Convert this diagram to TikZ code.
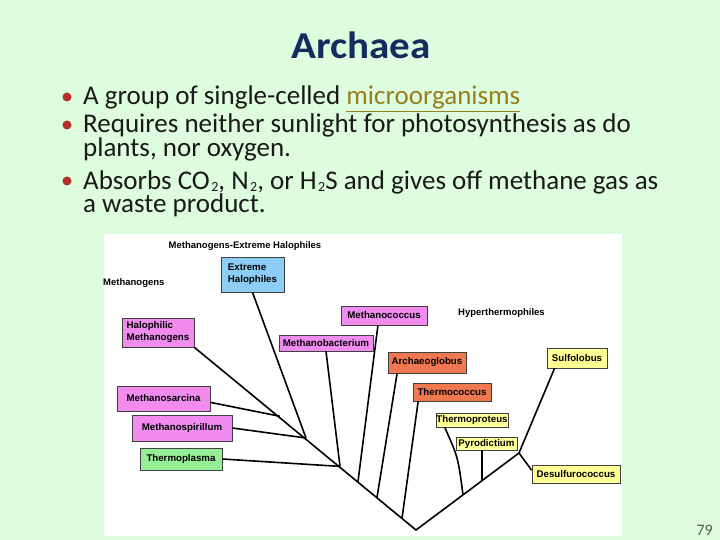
\documentclass[tikz,border=0pt]{standalone}
\usepackage{fontspec}
\setmainfont{Carlito}
\newfontfamily\titlefont[FakeStretch=1.08]{Carlito}
\newfontfamily\treefont{Liberation Sans}
\usetikzlibrary{calc}
\definecolor{bgc}{RGB}{222,253,222}
\definecolor{titlec}{RGB}{20,45,95}
\definecolor{txtc}{RGB}{25,25,25}
\definecolor{linkc}{RGB}{150,128,30}
\definecolor{bulc}{RGB}{185,45,40}
\definecolor{pinkc}{RGB}{240,140,240}
\definecolor{bluec}{RGB}{140,205,245}
\definecolor{orangec}{RGB}{240,120,80}
\definecolor{yellowc}{RGB}{255,255,150}
\definecolor{greenc}{RGB}{150,238,150}
\definecolor{numc}{RGB}{85,95,65}
\newcommand{\sbt}[1]{\kern1.5pt\raisebox{-2.5pt}{\fontsize{14}{14}\selectfont #1}}
\newcommand{\bodyfontsel}{\fontsize{27}{24}\selectfont\lineskiplimit -20pt\relax\lineskip 0pt\relax}
\begin{document}
\begin{tikzpicture}[x=1pt,y=-1pt,
  tbox/.style={draw=black!75, line width=0.7pt, inner sep=0pt, text=black, align=left,
    font=\treefont\bfseries\fontsize{9.7}{12}\selectfont},
  pinkbox/.style={tbox, fill=pinkc},
  bluebox/.style={tbox, fill=bluec},
  orangebox/.style={tbox, fill=orangec},
  yellowbox/.style={tbox, fill=yellowc},
  greenbox/.style={tbox, fill=greenc},
  plainlbl/.style={inner sep=0pt, text=black, font=\treefont\bfseries\fontsize{9.5}{12}\selectfont},
  branch/.style={line width=1.6pt, black},
  bul/.style={circle, fill=bulc, inner sep=0pt, minimum size=9pt},
  bodytext/.style={anchor=base west, inner sep=0pt, text=txtc, align=left, font=\bodyfontsel}]
\useasboundingbox (0,0) rectangle (720,540);
\fill[bgc] (0,0) rectangle (720,540);
% title
\node[anchor=base, inner sep=0pt, text=titlec, font=\titlefont\bfseries\fontsize{38}{40}\selectfont] (title) at (361,59) {Archaea};
% bullets
\node[bul] (b1) at (67,97) {};
\node[bul] (b2) at (67,125) {};
\node[bul] (b3) at (67,181) {};
\node[bodytext] (l1) at (83,105) {A group of single-celled \textcolor{linkc}{\underline{microorganisms}}};
\node[bodytext] (l2) at (83,157) {Requires neither sunlight for photosynthesis as do\\plants, nor oxygen.};
\node[bodytext] (l4) at (83,213) {Absorbs CO\sbt{2}, N\sbt{2}, or H\sbt{2}S and gives off methane gas as\\a waste product.};
% image area
\fill[white] (104,234) rectangle (622,536);
% plain labels
\node[plainlbl] (mgeh) at (245,246) {Methanogens-Extreme Halophiles};
\node[plainlbl, anchor=west] (mgl) at (103,283) {Methanogens};
\node[plainlbl, anchor=west] (hyp) at (458,313) {Hyperthermophiles};
% boxes
\node[bluebox, minimum width=63, minimum height=35] (exh) at (252.5,274.5) {Extreme\\Halophiles};
\node[pinkbox, minimum width=72, minimum height=29] (hme) at (158,332.5) {Halophilic\\Methanogens};
\node[pinkbox, minimum width=94, minimum height=16] (mba) at (326,343) {Methanobacterium};
\node[pinkbox, minimum width=86, minimum height=19] (mco) at (384,315.5) {Methanococcus};
\node[orangebox, minimum width=78, minimum height=21] (arc) at (427,362.5) {Archaeoglobus};
\node[yellowbox, minimum width=60, minimum height=20] (sul) at (577,358) {Sulfolobus};
\node[orangebox, minimum width=78, minimum height=18] (thc) at (452,392) {Thermococcus};
\node[yellowbox, minimum width=72, minimum height=14] (thp) at (472,420) {Thermoproteus};
\node[yellowbox, minimum width=61, minimum height=13] (pyr) at (486.5,443.5) {Pyrodictium};
\node[yellowbox, minimum width=88, minimum height=18] (des) at (576,474) {Desulfurococcus};
\node[pinkbox, minimum width=93, minimum height=25] (msa) at (163.5,398.5) {Methanosarcina};
\node[pinkbox, minimum width=100, minimum height=26] (msp) at (182,428) {Methanospirillum};
\node[greenbox, minimum width=82, minimum height=22] (tpl) at (181,459) {Thermoplasma};
% junctions
\coordinate (root) at (416,530);
\coordinate (j1) at (280,416.3);
\coordinate (j2) at (306,438);
\coordinate (j3) at (340,466.4);
\coordinate (j4) at (358,481.5);
\coordinate (j5) at (377,497.4);
\coordinate (j6) at (402,518.3);
\coordinate (k1) at (463,494.9);
\coordinate (k2) at (482,480.7);
\coordinate (k3) at (519,453);
% branches
\draw[branch] (hme.south east) -- (root) -- (k3);
\draw[branch] ($(msa.north east)!0.65!(msa.south east)$) -- (j1);
\draw[branch] (msp.east) -- (j2);
\draw[branch] (exh.south) -- (j2);
\draw[branch] (tpl.east) -- (j3);
\draw[branch] (mba.south) -- (j3);
\draw[branch] ($(mco.south west)!0.43!(mco.south east)$) -- (j4);
\draw[branch] ($(arc.south west)!0.12!(arc.south east)$) -- (j5);
\draw[branch] ($(thc.south west)!0.07!(thc.south east)$) -- (j6);
\draw[branch] ($(thp.south west)!0.125!(thp.south east)$) .. controls (458,457) .. (k1);
\draw[branch] (k2 |- pyr.south) -- (k2);
\draw[branch] ($(sul.south west)!0.13!(sul.south east)$) -- (k3);
\draw[branch] (k3) -- ($(des.north west)!0.3!(des.south west)$);
% page number
\node[anchor=base east, inner sep=0pt, text=numc, font=\fontsize{16}{18}\selectfont] (pg) at (713,535) {79};
\end{tikzpicture}
\end{document}
